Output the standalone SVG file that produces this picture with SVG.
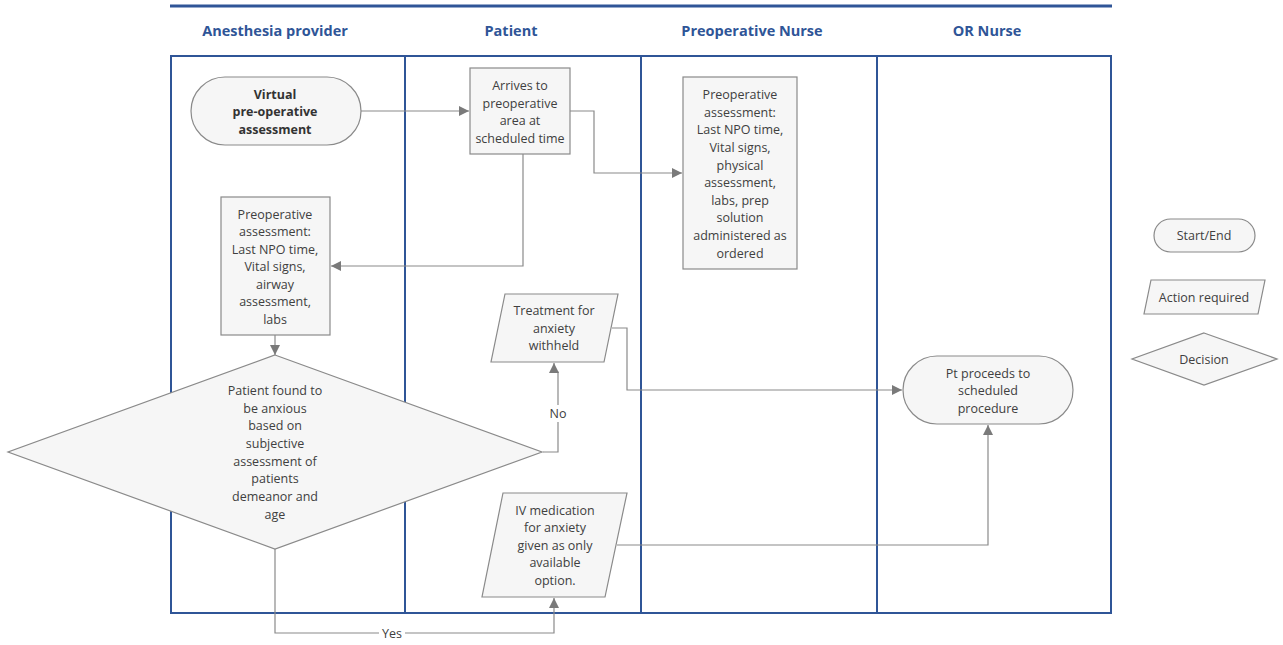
<svg xmlns="http://www.w3.org/2000/svg" width="1283" height="645" viewBox="0 0 1283 645">
<defs>
<style>
.lane{fill:none;stroke:#2F5597;stroke-width:2}
.hdr{font-family:"Open Sans","Noto Sans",sans-serif;font-weight:bold;font-size:14.5px;fill:#2F5597;text-anchor:middle}
.shape{fill:#f6f6f6;stroke:#8a8a8a;stroke-width:1.2}
.t{font-family:"Open Sans","Noto Sans",sans-serif;font-size:12.5px;fill:#404040;text-anchor:middle}
.b{font-weight:bold;fill:#333}
.conn{fill:none;stroke:#8a8a8a;stroke-width:1.2}
.lbl{font-family:"Open Sans","Noto Sans",sans-serif;font-size:12.5px;fill:#404040;text-anchor:middle}
</style>
<marker id="arr" viewBox="0 0 10 10" refX="10" refY="5" markerWidth="10" markerHeight="10" markerUnits="userSpaceOnUse" orient="auto">
<path d="M0,0 L10,5 L0,10 z" fill="#7a7a7a"/>
</marker>
</defs>
<rect width="1283" height="645" fill="#ffffff"/>
<g id="lanes">
<line x1="170" y1="6" x2="1112" y2="6" stroke="#2F5597" stroke-width="3"/>
<rect class="lane" x="171" y="56" width="940" height="557"/>
<line class="lane" x1="405" y1="56" x2="405" y2="613"/>
<line class="lane" x1="641" y1="56" x2="641" y2="613"/>
<line class="lane" x1="877" y1="56" x2="877" y2="613"/>
<text class="hdr" x="275" y="36">Anesthesia provider</text>
<text class="hdr" x="511" y="36">Patient</text>
<text class="hdr" x="752" y="36">Preoperative Nurse</text>
<text class="hdr" x="987" y="36">OR Nurse</text>
</g>
<g id="connectors">
<path class="conn" d="M361,111 H469" marker-end="url(#arr)"/>
<path class="conn" d="M570,111 H594 V173 H682" marker-end="url(#arr)"/>
<path class="conn" d="M523,154 V266 H331" marker-end="url(#arr)"/>
<path class="conn" d="M275,335 V355" marker-end="url(#arr)"/>
<path class="conn" d="M543,452 H558 V372 H554 V363" marker-end="url(#arr)"/>
<path class="conn" d="M612,328 H627 V390 H902" marker-end="url(#arr)"/>
<path class="conn" d="M617,545 H988 V425" marker-end="url(#arr)"/>
<path class="conn" d="M275,549 V633 H554 V598" marker-end="url(#arr)"/>
<rect x="548" y="405" width="20" height="17" fill="#ffffff"/>
<text class="lbl" x="558" y="418">No</text>
<rect x="379" y="626" width="26" height="15" fill="#ffffff"/>
<text class="lbl" x="392" y="638">Yes</text>
</g>
<g id="start">
<rect class="shape" x="191" y="77" width="170" height="68" rx="34" ry="34"/>
<text class="t b" x="275" y="99">Virtual</text>
<text class="t b" x="275" y="116">pre-operative</text>
<text class="t b" x="275" y="134">assessment</text>
</g>
<g id="arrives">
<rect class="shape" x="470" y="68" width="100" height="86"/>
<text class="t" x="520" y="90">Arrives to</text>
<text class="t" x="520" y="108">preoperative</text>
<text class="t" x="520" y="125">area at</text>
<text class="t" x="520" y="143">scheduled time</text>
</g>
<g id="nurse-assessment">
<rect class="shape" x="683" y="77" width="114" height="192"/>
<text class="t" x="740" y="99">Preoperative</text>
<text class="t" x="740" y="117">assessment:</text>
<text class="t" x="740" y="134">Last NPO time,</text>
<text class="t" x="740" y="152">Vital signs,</text>
<text class="t" x="740" y="170">physical</text>
<text class="t" x="740" y="187">assessment,</text>
<text class="t" x="740" y="205">labs, prep</text>
<text class="t" x="740" y="222">solution</text>
<text class="t" x="740" y="240">administered as</text>
<text class="t" x="740" y="258">ordered</text>
</g>
<g id="anesthesia-assessment">
<rect class="shape" x="221" y="197" width="109" height="138"/>
<text class="t" x="275" y="219">Preoperative</text>
<text class="t" x="275" y="236">assessment:</text>
<text class="t" x="275" y="254">Last NPO time,</text>
<text class="t" x="275" y="271">Vital signs,</text>
<text class="t" x="275" y="289">airway</text>
<text class="t" x="275" y="306">assessment,</text>
<text class="t" x="275" y="324">labs</text>
</g>
<g id="decision">
<polygon class="shape" points="275,355 542,452 275,549 8,452"/>
<text class="t" x="275" y="395">Patient found to</text>
<text class="t" x="275" y="413">be anxious</text>
<text class="t" x="275" y="430">based on</text>
<text class="t" x="275" y="448">subjective</text>
<text class="t" x="275" y="466">assessment of</text>
<text class="t" x="275" y="483">patients</text>
<text class="t" x="275" y="501">demeanor and</text>
<text class="t" x="275" y="519">age</text>
</g>
<g id="withheld">
<polygon class="shape" points="505,294 618,294 604,362 491,362"/>
<text class="t" x="554" y="315">Treatment for</text>
<text class="t" x="554" y="333">anxiety</text>
<text class="t" x="554" y="350">withheld</text>
</g>
<g id="iv-medication">
<polygon class="shape" points="503,493 627,493 605,597 482,597"/>
<text class="t" x="555" y="515">IV medication</text>
<text class="t" x="555" y="532">for anxiety</text>
<text class="t" x="555" y="550">given as only</text>
<text class="t" x="555" y="567">available</text>
<text class="t" x="555" y="585">option.</text>
</g>
<g id="proceeds">
<rect class="shape" x="903" y="356" width="170" height="68" rx="34" ry="34"/>
<text class="t" x="988" y="378">Pt proceeds to</text>
<text class="t" x="988" y="395">scheduled</text>
<text class="t" x="988" y="413">procedure</text>
</g>
<g id="legend-start-end">
<rect class="shape" x="1154" y="219" width="101" height="33" rx="16.5" ry="16.5"/>
<text class="t" x="1204" y="240">Start/End</text>
</g>
<g id="legend-action">
<polygon class="shape" points="1151,280 1265,280 1258,314 1144,314"/>
<text class="t" x="1204" y="302">Action required</text>
</g>
<g id="legend-decision">
<polygon class="shape" points="1204,333 1277,359 1204,385 1132,359"/>
<text class="t" x="1204" y="364">Decision</text>
</g>
</svg>
